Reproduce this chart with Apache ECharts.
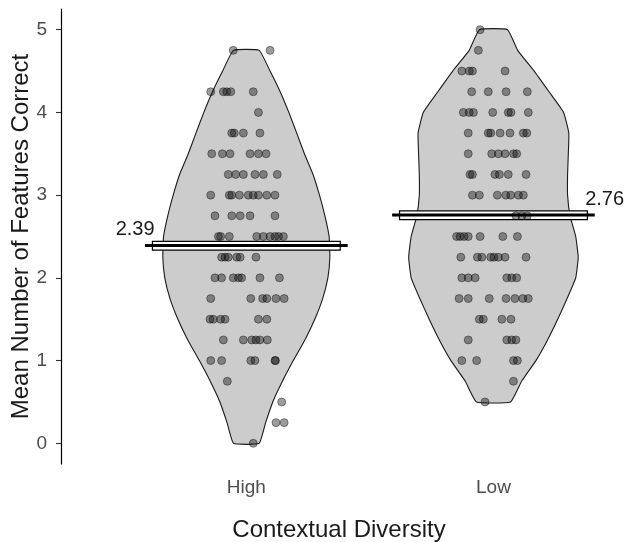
<!DOCTYPE html>
<html><head><meta charset="utf-8">
<script src="https://cdn.jsdelivr.net/npm/echarts@6/dist/echarts.min.js"></script>
<style>html,body{margin:0;padding:0;background:#fff}#c{width:627px;height:542px}</style>
</head><body><div id="c"></div>
<script>
// ---- data ----
const categories = ['High', 'Low'];
const categoryPos = [1, 2];
const yTicks = [0, 1, 2, 3, 4, 5];
const means = [2.39, 2.76];

// violin outline: half-widths (in category units) at y levels
const highViolinY = [0, 0.25, 0.5, 0.75, 1.0, 1.25, 1.5, 1.75, 2.0, 2.25, 2.5, 2.75, 3.0, 3.25, 3.5, 3.75, 4.0, 4.25, 4.5, 4.75];
const highViolinW = [0.052, 0.078, 0.107, 0.146, 0.19, 0.237, 0.277, 0.309, 0.330, 0.338, 0.335, 0.318, 0.296, 0.27, 0.235, 0.204, 0.172, 0.137, 0.096, 0.052];
const lowViolinY = [0.5, 0.75, 1.0, 1.25, 1.5, 1.75, 2.0, 2.25, 2.5, 2.75, 3.0, 3.25, 3.5, 3.75, 4.0, 4.25, 4.5, 4.75, 5.0];
const lowViolinW = [0.069, 0.114, 0.172, 0.219, 0.26, 0.298, 0.333, 0.343, 0.333, 0.31, 0.300, 0.300, 0.303, 0.305, 0.284, 0.225, 0.165, 0.098, 0.057];

// jittered points: y levels and the x positions of the points at each level
const highLevels = [4.75, 4.25, 4.0, 3.75, 3.5, 3.25, 3.0, 2.75, 2.5, 2.25, 2.0, 1.75, 1.5, 1.25, 1.0, 0.75, 0.5, 0.25, 0];
const highX = [
  [0.947, 1.096],
  [0.856, 0.907, 0.921, 0.937, 1.028],
  [1.049],
  [0.941, 0.951, 0.988, 1.055],
  [0.860, 0.903, 0.934, 1.015, 1.049, 1.080],
  [0.927, 0.957, 0.988, 1.035, 1.069, 1.125],
  [0.856, 0.931, 0.941, 0.972, 1.008, 1.028, 1.049, 1.083, 1.116],
  [0.873, 0.941, 0.975, 1.015, 1.116],
  [0.887, 0.896, 0.931, 1.042, 1.069, 1.096, 1.116, 1.130, 1.150],
  [0.900, 0.914, 0.927, 0.961, 0.975, 1.039],
  [0.873, 0.900, 0.947, 0.968, 0.981, 1.055, 1.134],
  [0.856, 1.018, 1.066, 1.083, 1.120, 1.153],
  [0.853, 0.866, 0.896, 0.914, 1.049, 1.083],
  [0.907, 0.988, 1.022, 1.039, 1.055, 1.085],
  [0.856, 0.900, 1.018, 1.035, 1.116, 1.118],
  [0.923],
  [1.143],
  [1.120, 1.153],
  [1.028]
];
const lowLevels = [5.0, 4.75, 4.5, 4.25, 4.0, 3.75, 3.5, 3.25, 3.0, 2.75, 2.5, 2.25, 2.0, 1.75, 1.5, 1.25, 1.0, 0.75, 0.5];
const lowX = [
  [1.946],
  [1.939],
  [1.872, 1.902, 1.915, 2.047],
  [1.912, 1.979, 2.051, 2.137],
  [1.878, 1.902, 1.919, 1.997, 2.060, 2.071, 2.141],
  [1.898, 1.979, 1.989, 2.027, 2.067, 2.121, 2.135],
  [1.898, 1.993, 2.020, 2.047, 2.081, 2.094],
  [1.905, 1.915, 2.006, 2.024, 2.060, 2.132],
  [1.915, 1.943, 2.016, 2.050, 2.070, 2.101, 2.121],
  [2.091, 2.115, 2.137],
  [1.851, 1.865, 1.881, 1.898, 1.946, 2.038, 2.097],
  [1.868, 1.935, 1.953, 1.989, 2.002, 2.020, 2.047, 2.132],
  [1.872, 1.898, 1.926, 2.054, 2.074, 2.094],
  [1.861, 1.898, 1.983, 2.051, 2.087, 2.119, 2.141],
  [1.943, 1.959, 2.034, 2.071],
  [1.898, 2.054, 2.074, 2.091],
  [1.872, 1.932, 2.081, 2.097],
  [2.081],
  [1.966]
];

// ---- build series data ----
function pointsFrom(levels, xs) {
  const out = [];
  levels.forEach((y, i) => xs[i].forEach(x => out.push([x, y])));
  return out;
}
const violins = [
  { center: categoryPos[0], ys: highViolinY, ws: highViolinW },
  { center: categoryPos[1], ys: lowViolinY, ws: lowViolinW }
];
const FONT = '"Liberation Sans", Arial, sans-serif';
const pointStyle = { color: 'rgba(10,10,10,0.5)', borderColor: 'rgba(0,0,0,0.55)', borderWidth: 0.9 };

const chart = echarts.init(document.getElementById('c'), null, { renderer: 'canvas' });
chart.setOption({
  animation: false,
  backgroundColor: '#ffffff',
  grid: { left: 61, right: 10, top: 9, bottom: 78, outerBoundsMode: 'none', containLabel: false },
  xAxis: {
    type: 'value', min: 0.25, max: 2.5,
    axisLine: { show: false }, axisTick: { show: false }, splitLine: { show: false },
    axisLabel: {
      customValues: categoryPos,
      formatter: v => categories[categoryPos.indexOf(Math.round(v))] || '',
      fontSize: 19, color: '#4d4d4d', margin: 14, fontFamily: FONT
    },
    name: 'Contextual Diversity', nameLocation: 'middle', nameGap: 54, nameMoveOverlap: false,
    nameTextStyle: { fontSize: 24, color: '#1a1a1a', fontFamily: FONT }
  },
  yAxis: {
    type: 'value', min: -0.25, max: 5.25,
    axisLine: { show: true, lineStyle: { color: '#000', width: 1.2 } },
    axisTick: { show: true, customValues: yTicks, length: 5, lineStyle: { color: '#333', width: 1.1 } },
    splitLine: { show: false },
    axisLabel: { customValues: yTicks, fontSize: 19, color: '#4d4d4d', margin: 14, fontFamily: FONT },
    name: 'Mean Number of Features Correct', nameLocation: 'middle', nameGap: 28, nameMoveOverlap: false,
    nameTextStyle: { fontSize: 24, color: '#1a1a1a', fontFamily: FONT }
  },
  series: [
    {
      type: 'custom', name: 'violin',
      data: violins.map((v, i) => [i]),
      renderItem: (params, api) => {
        const v = violins[api.value(0)];
        const pts = [];
        for (let i = 0; i < v.ys.length; i++) pts.push(api.coord([v.center + v.ws[i], v.ys[i]]));
        for (let i = v.ys.length - 1; i >= 0; i--) pts.push(api.coord([v.center - v.ws[i], v.ys[i]]));
        return {
          type: 'polygon',
          shape: { points: pts, smooth: 0.12 },
          style: { fill: '#cccccc', stroke: '#1a1a1a', lineWidth: 1.1 }
        };
      },
      z: 1
    },
    {
      type: 'custom', name: 'meanBox',
      data: means.map((m, i) => [categoryPos[i], m]),
      renderItem: (params, api) => {
        const c = api.value(0), m = api.value(1);
        const a = api.coord([c - 0.38, m + 0.05]);
        const b = api.coord([c + 0.38, m - 0.055]);
        return {
          type: 'rect',
          shape: { x: a[0], y: a[1], width: b[0] - a[0], height: b[1] - a[1] },
          style: { fill: '#ffffff', stroke: '#000', lineWidth: 1.2 }
        };
      },
      z: 2
    },
    {
      type: 'scatter', name: 'High',
      data: pointsFrom(highLevels, highX),
      symbolSize: 8,
      itemStyle: pointStyle,
      z: 3
    },
    {
      type: 'scatter', name: 'Low',
      data: pointsFrom(lowLevels, lowX),
      symbolSize: 8,
      itemStyle: pointStyle,
      z: 3
    },
    {
      type: 'custom', name: 'meanLine',
      data: means.map((m, i) => [categoryPos[i], m, i]),
      renderItem: (params, api) => {
        const c = api.value(0), m = api.value(1), idx = api.value(2);
        const l = api.coord([c - 0.41, m]);
        const r = api.coord([c + 0.41, m]);
        const side = idx === 0 ? -1 : 1;
        const t = api.coord([c + side * 0.45, m + 0.19]);
        return {
          type: 'group',
          children: [
            { type: 'line', shape: { x1: l[0], y1: l[1], x2: r[0], y2: r[1] },
              style: { stroke: '#000', lineWidth: 3 } },
            { type: 'text', x: t[0], y: t[1],
              style: { text: m.toFixed(2), fontSize: 20, fontFamily: FONT, fill: '#1a1a1a',
                       align: 'center', verticalAlign: 'middle' } }
          ]
        };
      },
      z: 4
    }
  ]
});
</script>
</body></html>
